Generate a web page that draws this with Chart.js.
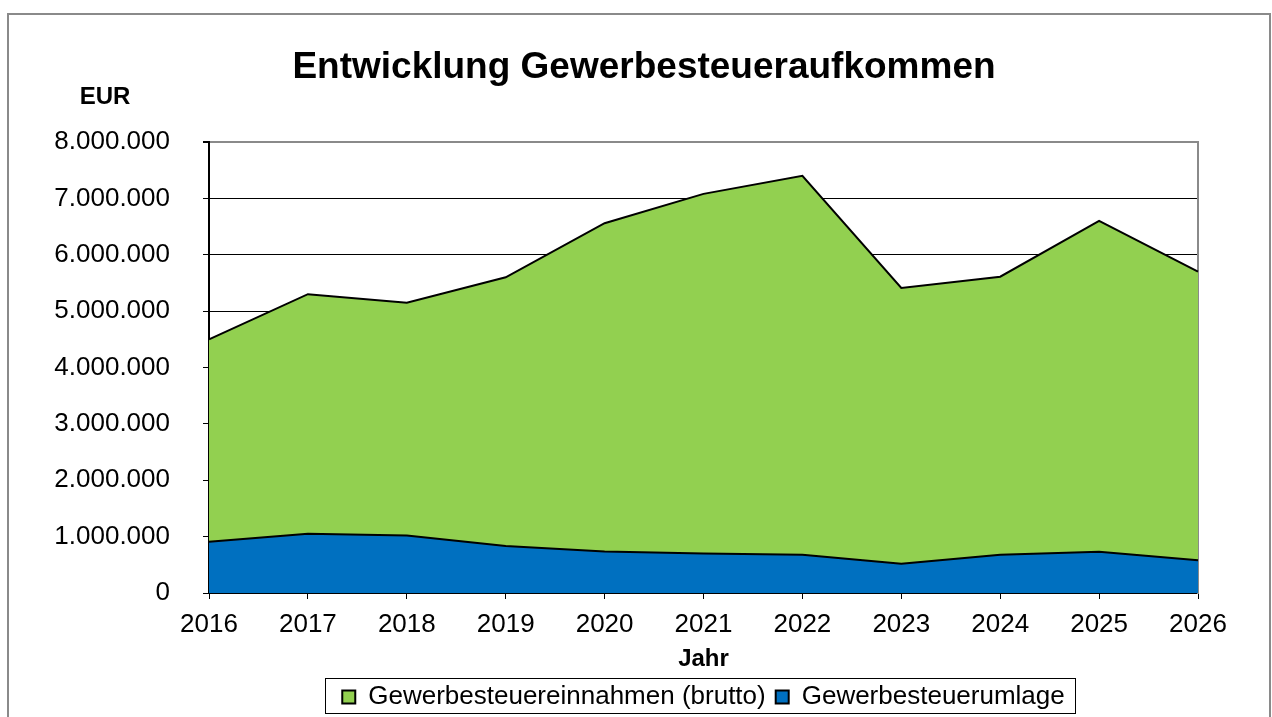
<!DOCTYPE html>
<html>
<head>
<meta charset="utf-8">
<script src="https://cdn.jsdelivr.net/npm/chart.js@4.4.1/dist/chart.umd.min.js"></script>
<style>
  body { margin: 0; background: #fff; }
  #wrap { width: 1272px; height: 717px; position: relative; }
</style>
</head>
<body>
<div id="wrap"><canvas id="gewChart"></canvas></div>
<script>
const years = ["2016", "2017", "2018", "2019", "2020", "2021", "2022", "2023", "2024", "2025", "2026"];
const brutto = [4500000, 5300000, 5150000, 5600000, 6560000, 7080000, 7400000, 5410000, 5610000, 6600000, 5700000];
const umlage = [910000, 1050000, 1020000, 835000, 735000, 700000, 680000, 520000, 680000, 730000, 580000];
const yTicks = [0, 1000000, 2000000, 3000000, 4000000, 5000000, 6000000, 7000000, 8000000];

const FONT = "'Liberation Sans', Arial, sans-serif";

// fmt 1000000 -> 1.000.000
const fmt = v => String(v).replace(/\B(?=(\d{3})+(?!\d))/g, ".");

const frame = {
  id: "frame",
  afterDraw(chart) {
    const ctx = chart.ctx;
    ctx.save();
    // outer frame
    ctx.strokeStyle = "#8a8a8a";
    ctx.lineWidth = 2;
    ctx.strokeRect(8, 14, 1262, 720);
    // title + y unit
    ctx.fillStyle = "#000";
    ctx.textAlign = "center";
    ctx.textBaseline = "alphabetic";
    ctx.font = "bold 37px " + FONT;
    ctx.fillText("Entwicklung Gewerbesteueraufkommen", 644, 78);
    ctx.font = "bold 24px " + FONT;
    ctx.fillText("EUR", 105, 104);
    // legend border
    const lg = chart.legend;
    if (lg && lg.legendHitBoxes.length) {
      const hb = lg.legendHitBoxes;
      const l = hb[0].left - 17;
      const r = hb[hb.length - 1].left + hb[hb.length - 1].width + 11;
      ctx.strokeStyle = "#000";
      ctx.lineWidth = 1;
      ctx.strokeRect(Math.round(l) + 0.5, 678.5, Math.round(r - l), 35);
    }
    ctx.restore();
  }
};

new Chart(document.getElementById("gewChart"), {
  type: "line",
  data: {
    labels: years,
    datasets: [
      {
        label: "Gewerbesteuerumlage",
        data: umlage,
        backgroundColor: "#0070C0",
        borderColor: "#000",
        borderWidth: 2,
        fill: "origin",
        pointRadius: 0,
        tension: 0,
      },
      {
        label: "Gewerbesteuereinnahmen (brutto)",
        data: brutto,
        backgroundColor: "#92D050",
        borderColor: "#000",
        borderWidth: 2,
        fill: "origin",
        pointRadius: 0,
        tension: 0,
      },
    ],
  },
  options: {
    responsive: true,
    maintainAspectRatio: false,
    animation: false,
    layout: { padding: { left: 0, right: 0, top: 142, bottom: -3 } },
    plugins: {
      title: { display: false },
      tooltip: { enabled: false },
      legend: {
        position: "bottom",
        fullSize: false,
        reverse: true,
        labels: {
          color: "#000",
          font: { family: FONT, size: 26 },
          boxWidth: 13,
          boxHeight: 13,
          padding: 10,
        },
      },
    },
    scales: {
      x: {
        offset: false,
        grid: { display: true, drawOnChartArea: false, drawTicks: true, tickLength: 6, color: "#000" },
        border: { display: true, color: "#000", width: 2 },
        ticks: { color: "#000", font: { family: FONT, size: 26 }, padding: 10, maxRotation: 0, autoSkip: false },
        title: { display: true, text: "Jahr", color: "#000", font: { family: FONT, size: 24, weight: "bold" }, padding: 0 },
        afterFit: s => { s.height = 81; },
      },
      y: {
        min: 0,
        max: 8000000,
        afterBuildTicks: s => { s.ticks = yTicks.map(v => ({ value: v })); },
        grid: {
          color: c => (c.tick && c.tick.value === 8000000 ? "#8a8a8a" : "#000"),
          lineWidth: c => (c.tick && c.tick.value === 8000000 ? 2 : 1),
          tickLength: 6,
          tickColor: "#000",
        },
        border: { display: true, color: "#000", width: 2 },
        ticks: { color: "#000", font: { family: FONT, size: 26 }, padding: 33, callback: v => fmt(v) },
        afterFit: s => { s.width = 209; },
      },
      y2: {
        position: "right",
        min: 0,
        max: 8000000,
        grid: { display: false },
        border: { display: true, color: "#8a8a8a", width: 2 },
        ticks: { display: false },
        afterFit: s => { s.width = 74; },
      },
    },
  },
  plugins: [frame],
});
</script>
</body>
</html>
